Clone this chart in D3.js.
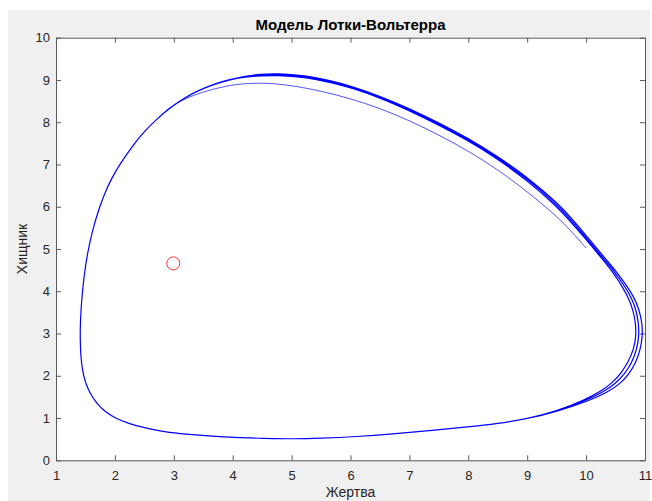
<!DOCTYPE html>
<html>
<head>
<meta charset="utf-8">
<script src="https://cdn.jsdelivr.net/npm/d3@7"></script>
<style>
  body { margin: 0; background: #fff; }
  text { font-family: "Liberation Sans", Arial, Helvetica, sans-serif; }
</style>
</head>
<body>
<div id="chart"></div>
<script>
// Data (prey = Жертва, predator = Хищник)
const xTicks = [1, 2, 3, 4, 5, 6, 7, 8, 9, 10, 11];
const yTicks = [0, 1, 2, 3, 4, 5, 6, 7, 8, 9, 10];

// first partial arc, starting at (10, 5)
const startArc = [[10.00,5.02],[9.75,5.42],[9.50,5.78],[9.00,6.36],[8.50,6.88],[8.00,7.32],[7.50,7.70],
  [7.00,8.04],[6.50,8.33],[6.00,8.56],[5.50,8.74],[5.00,8.87],[4.60,8.93],[4.20,8.92],[3.90,8.86],
  [3.60,8.76],[3.35,8.645],[3.10,8.50],[2.90,8.30]];

const loop1 = [[2.90,8.30],[2.70,8.06],[2.51,7.80],[2.34,7.51],[2.17,7.18],[2.01,6.84],
  [1.86,6.44],[1.74,6.00],[1.62,5.45],[1.53,4.88],[1.47,4.30],[1.43,3.70],[1.415,3.30],[1.41,3.00],
  [1.414,2.65],[1.431,2.31],[1.463,2.03],[1.514,1.78],[1.593,1.55],[1.70,1.33],[1.84,1.14],[2.014,0.99],
  [2.234,0.87],[2.48,0.78],[2.76,0.69],[3.10,0.63],[3.52,0.58],[4.03,0.54],[4.54,0.52],[5.00,0.505],
  [5.50,0.52],[6.10,0.56],[6.70,0.62],[7.40,0.71],[8.00,0.79],[8.50,0.87],[9.00,0.98],[9.50,1.16],
  [9.98,1.43],[10.26,1.64],[10.45,1.84],[10.60,2.07],[10.72,2.34],[10.81,2.63],[10.85,2.95],
  [10.84,3.25],[10.80,3.55],[10.72,3.84],[10.61,4.12],[10.46,4.44],[10.30,4.72],[10.14,4.99],
  [9.98,5.26],[9.73,5.66],[9.48,6.04],[8.98,6.64],[8.49,7.14],[7.99,7.57],[7.49,7.94],[6.99,8.28],
  [6.50,8.58],[6.00,8.82],[5.70,8.93],[5.40,9.02],[5.10,9.08],[4.77,9.11],[4.46,9.10],[4.21,9.07],
  [3.97,9.01],[3.74,8.92],[3.52,8.81],[3.30,8.67],[3.10,8.50],[2.90,8.30]];

const loop2 = [[2.90,8.30],[2.70,8.06],[2.51,7.80],[2.34,7.51],[2.17,7.18],[2.01,6.84],
  [1.86,6.44],[1.74,6.00],[1.62,5.45],[1.53,4.88],[1.47,4.30],[1.43,3.70],[1.415,3.30],[1.41,3.00],
  [1.414,2.65],[1.431,2.31],[1.463,2.03],[1.514,1.78],[1.593,1.55],[1.70,1.33],[1.84,1.14],[2.014,0.99],
  [2.234,0.87],[2.48,0.78],[2.76,0.69],[3.10,0.63],[3.52,0.58],[4.03,0.54],[4.54,0.52],[5.00,0.505],
  [5.50,0.52],[6.10,0.56],[6.70,0.62],[7.40,0.71],[8.00,0.79],[8.50,0.87],[9.00,0.98],[9.50,1.15],
  [10.00,1.42],[10.30,1.62],[10.50,1.82],[10.66,2.05],[10.78,2.32],[10.86,2.62],[10.90,2.95],
  [10.89,3.25],[10.85,3.56],[10.77,3.85],[10.65,4.13],[10.49,4.45],[10.32,4.73],[10.16,5.00],
  [10.00,5.27],[9.75,5.68],[9.50,6.06],[9.00,6.66],[8.50,7.16],[8.00,7.59],[7.50,7.96],[7.00,8.30],
  [6.50,8.60],[6.00,8.84],[5.70,8.95],[5.40,9.04],[5.10,9.10],[4.77,9.13],[4.46,9.12],[4.21,9.08],
  [3.97,9.01],[3.74,8.92],[3.52,8.81],[3.30,8.67],[3.10,8.50],[2.90,8.30]];

const loop3 = [[2.90,8.30],[2.70,8.06],[2.51,7.80],[2.34,7.51],[2.17,7.18],[2.01,6.84],
  [1.86,6.44],[1.74,6.00],[1.62,5.45],[1.53,4.88],[1.47,4.30],[1.43,3.70],[1.415,3.30],[1.41,3.00],
  [1.414,2.65],[1.431,2.31],[1.463,2.03],[1.514,1.78],[1.593,1.55],[1.70,1.33],[1.84,1.14],[2.014,0.99],
  [2.234,0.87],[2.48,0.78],[2.76,0.69],[3.10,0.63],[3.52,0.58],[4.03,0.54],[4.54,0.52],[5.00,0.505],
  [5.50,0.52],[6.10,0.56],[6.70,0.62],[7.40,0.71],[8.00,0.79],[8.50,0.87],[9.00,0.98],[9.50,1.15],
  [10.03,1.40],[10.35,1.60],[10.56,1.79],[10.72,2.02],[10.84,2.30],[10.92,2.61],[10.96,2.95],
  [10.95,3.26],[10.90,3.57],[10.81,3.87],[10.68,4.15],[10.51,4.47],[10.34,4.75],[10.18,5.02],
  [10.02,5.29],[9.77,5.70],[9.52,6.08],[9.02,6.68],[8.51,7.18],[8.01,7.61],[7.51,7.98],[7.01,8.32],
  [6.50,8.62],[6.00,8.86],[5.70,8.97],[5.40,9.06],[5.10,9.12],[4.77,9.15],[4.46,9.14],[4.21,9.09],
  [3.97,9.02],[3.74,8.93],[3.52,8.81],[3.30,8.67],[3.10,8.50],[2.90,8.30]];

// equilibrium point
const equilibrium = [[2.99, 4.66]];

const width = 652, height = 501;
const margin = { left: 56, right: 7, top: 37.7, bottom: 40.7 };

const svg = d3.select("#chart")
  .append("svg")
  .attr("width", width)
  .attr("height", height);

// figure background
svg.append("rect")
  .attr("x", 8).attr("y", 10)
  .attr("width", width - 10).attr("height", height - 10)
  .attr("fill", "#f0f0f0");

const x = d3.scaleLinear().domain([1, 11]).range([margin.left, width - margin.right]);
const y = d3.scaleLinear().domain([0, 10]).range([height - margin.bottom, margin.top]);

// axes area
svg.append("rect")
  .attr("x", x(1)).attr("y", y(10))
  .attr("width", x(11) - x(1)).attr("height", y(0) - y(10))
  .attr("fill", "#fff");

const axisColor = "#595959";

function styleAxis(g) {
  g.selectAll("path, line").attr("stroke", axisColor);
  g.selectAll("text").attr("fill", "#262626").style("font-size", "13px");
}

svg.append("g")
  .attr("transform", `translate(0,${y(0)})`)
  .call(d3.axisBottom(x).tickValues(xTicks).tickSize(-5).tickSizeOuter(0).tickPadding(10))
  .call(styleAxis);

svg.append("g")
  .attr("transform", `translate(${x(1)},0)`)
  .call(d3.axisLeft(y).tickValues(yTicks).tickSize(-5).tickSizeOuter(0).tickPadding(6))
  .call(styleAxis);

svg.append("g")
  .attr("transform", `translate(0,${y(10)})`)
  .call(d3.axisTop(x).tickValues(xTicks).tickSize(-5).tickSizeOuter(0).tickFormat(""))
  .call(styleAxis);

svg.append("g")
  .attr("transform", `translate(${x(11)},0)`)
  .call(d3.axisRight(y).tickValues(yTicks).tickSize(-5).tickSizeOuter(0).tickFormat(""))
  .call(styleAxis);

const line = d3.line()
  .x(d => x(d[0]))
  .y(d => y(d[1]))
  .curve(d3.curveBasis);

// the loops as one path (drop the repeated joint points)
const loops = loop1
  .concat(loop2.slice(1))
  .concat(loop3.slice(1));

const plot = svg.append("g");

plot.append("path")
  .datum(startArc)
  .attr("fill", "none")
  .attr("stroke", "#0000ff")
  .attr("stroke-opacity", 0.75)
  .attr("stroke-width", 0.9)
  .attr("d", line);

plot.append("path")
  .datum(loops)
  .attr("fill", "none")
  .attr("stroke", "#0000ff")
  .attr("stroke-width", 1.2)
  .attr("d", line);

plot.selectAll("circle")
  .data(equilibrium)
  .enter().append("circle")
  .attr("cx", d => x(d[0]))
  .attr("cy", d => y(d[1]))
  .attr("r", 6.5)
  .attr("fill", "none")
  .attr("stroke", "#ff0000")
  .attr("stroke-opacity", 0.8)
  .attr("stroke-width", 1);

// labels
svg.append("text")
  .attr("x", (x(1) + x(11)) / 2)
  .attr("y", 30)
  .attr("text-anchor", "middle")
  .style("font-size", "15px")
  .style("font-weight", "bold")
  .attr("fill", "#000")
  .text("Модель Лотки-Вольтерра");

svg.append("text")
  .attr("x", (x(1) + x(11)) / 2)
  .attr("y", 497)
  .attr("text-anchor", "middle")
  .style("font-size", "14px")
  .attr("fill", "#262626")
  .text("Жертва");

svg.append("text")
  .attr("transform", `translate(27,${(y(0) + y(10)) / 2}) rotate(-90)`)
  .attr("text-anchor", "middle")
  .style("font-size", "14px")
  .attr("fill", "#262626")
  .text("Хищник");
</script>
</body>
</html>
